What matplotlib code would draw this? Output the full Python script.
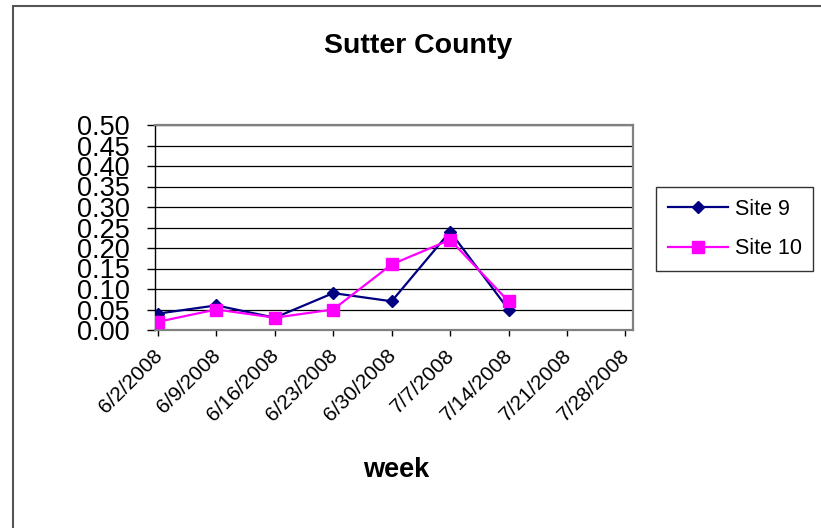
import matplotlib
matplotlib.use("Agg")
import matplotlib.pyplot as plt
import matplotlib.transforms as mtransforms
from matplotlib.patches import Rectangle
import numpy as np

plt.rcParams['font.family'] = ['Liberation Sans', 'DejaVu Sans']

weeks = ['6/2/2008', '6/9/2008', '6/16/2008', '6/23/2008', '6/30/2008',
         '7/7/2008', '7/14/2008', '7/21/2008', '7/28/2008']
site9 = [0.04, 0.06, 0.03, 0.09, 0.07, 0.24, 0.05]
site10 = [0.02, 0.05, 0.03, 0.05, 0.16, 0.22, 0.07]
y_ticks = np.arange(0, 0.501, 0.05)

fig = plt.figure(figsize=(8.21, 5.28), dpi=100)

# outer chart border (runs off the right and bottom of the picture)
fig.patches.append(Rectangle((12.5 / 821, -0.05), 1.2, 1 - 5.5 / 528 + 0.05,
                             transform=fig.transFigure, fill=False,
                             edgecolor='#555555', linewidth=1.5))

ax = fig.add_axes([155 / 821, 1 - 330 / 528, (633 - 155) / 821, (330 - 125) / 528])

x9 = np.arange(len(site9))
x10 = np.arange(len(site10))
ax.plot(x9, site9, color='#000080', linewidth=1.6, marker='D', markersize=6,
        label='Site 9', zorder=3)
ax.plot(x10, site10, color='#FF00FF', linewidth=1.6, marker='s', markersize=8.5,
        label='Site 10', zorder=4)

ax.set_ylim(0, 0.5)
ax.set_xlim(-0.05, len(weeks) - 1 + 0.13)
ax.set_yticks(y_ticks)
ax.set_yticklabels([f'{v:.2f}' for v in y_ticks], fontsize=19.5)
ax.set_xticks(np.arange(len(weeks)))
ax.set_xticklabels([])

# rotated week labels, hanging below and a little right of each tick
offset = mtransforms.ScaledTranslation(8 / 100, -16 / 100, fig.dpi_scale_trans)
for i, w in enumerate(weeks):
    ax.text(i, 0, w, transform=ax.get_xaxis_transform() + offset,
            fontsize=15, rotation=45, ha='right', va='top')

ax.tick_params(axis='y', direction='out', length=6, width=1, pad=12)
ax.tick_params(axis='x', direction='out', length=4.5, width=1)
ax.yaxis.grid(True, color='black', linewidth=0.9)
ax.set_axisbelow(True)

for side in ['top', 'right', 'bottom']:
    ax.spines[side].set_color('#808080')
    ax.spines[side].set_linewidth(1.6)
ax.spines['left'].set_color('black')
ax.spines['left'].set_linewidth(1.0)

fig.text(418 / 821, 1 - 46 / 528, 'Sutter County', fontsize=20.5,
         fontweight='bold', ha='center', va='center')
fig.text(396 / 821, 1 - 470 / 528, 'week', fontsize=19.5,
         fontweight='bold', ha='center', va='center')

leg = ax.legend(loc='upper left', bbox_to_anchor=(656 / 821, 1 - 187 / 528),
                bbox_transform=fig.transFigure, fontsize=15.5, frameon=True,
                fancybox=False, edgecolor='black', handlelength=2.8,
                handletextpad=0.3, labelspacing=0.85, borderpad=0.55,
                borderaxespad=0)
leg.get_frame().set_linewidth(1.0)

fig.savefig('out.png', dpi=100)
